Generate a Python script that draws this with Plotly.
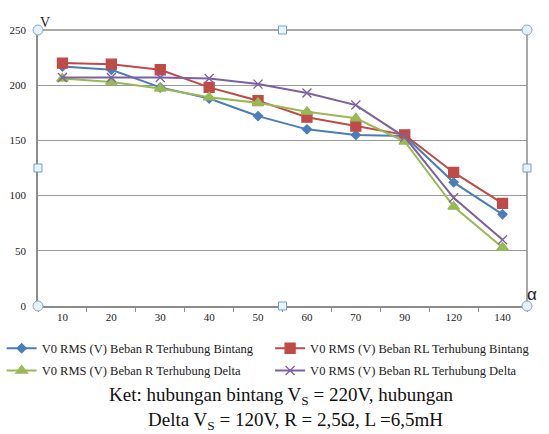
import plotly.graph_objects as go

categories = ["10", "20", "30", "40", "50", "60", "70", "90", "120", "140"]
r_bintang = [217, 214, 198, 188, 172, 160, 155, 154, 112, 83]
rl_bintang = [220, 219, 214, 198, 186, 171, 163, 155, 121, 93]
r_delta = [206, 203, 197, 189, 184, 176, 170, 149, 90, 53]
rl_delta = [207, 207, 207, 206, 201, 193, 182, 153, 98, 60]
y_ticks = [0, 50, 100, 150, 200, 250]

names = [
    "V0 RMS (V) Beban R Terhubung Bintang",
    "V0 RMS (V) Beban RL Terhubung Bintang",
    "V0 RMS (V) Beban R Terhubung Delta",
    "V0 RMS (V) Beban RL Terhubung Delta",
]
series = [r_bintang, rl_bintang, r_delta, rl_delta]
colors = ["#4A7EBB", "#BE4B48", "#98B954", "#7D60A0"]
symbols = ["diamond", "square", "triangle-up", "x-thin"]
sizes = [7, 10, 10, 9]
legend_ids = ["legend", "legend2", "legend", "legend2"]

fig = go.Figure()
for i, (nm, ys, c, s, sz, lg) in enumerate(zip(names, series, colors, symbols, sizes, legend_ids)):
    fig.add_trace(go.Scatter(
        x=categories, y=ys, name=nm, mode="lines+markers", legend=lg,
        legendgroup="g%d" % i,
        line=dict(color=c, width=2),
        marker=dict(symbol=s, size=sz, color=c, line=dict(color=c, width=1.3)),
    ))

leg_common = dict(
    orientation="v", xref="container", xanchor="left", y=-0.1, yanchor="top",
    font=dict(size=12.5, family="Liberation Serif", color="#222"),
    itemwidth=30, tracegroupgap=3, bgcolor="rgba(0,0,0,0)", borderwidth=0,
)

fig.update_layout(
    width=549, height=434,
    margin=dict(l=38, r=22, t=30, b=128, autoexpand=False),
    paper_bgcolor="white", plot_bgcolor="white",
    font=dict(family="Liberation Serif", color="#222"),
    showlegend=True,
    legend=dict(x=0.003, **leg_common),
    legend2=dict(x=0.492, **leg_common),
    xaxis=dict(
        type="category", showgrid=False, showline=True, linecolor="#8c8c8c",
        linewidth=1.5, ticks="outside", tickson="boundaries", ticklen=4,
        tickcolor="#8c8c8c", tickfont=dict(size=11, family="Liberation Serif", color="#222"),
        range=[-0.5, 9.5], zeroline=False, automargin=False,
    ),
    yaxis=dict(
        range=[0, 250], tickvals=y_ticks, showgrid=True, gridcolor="#9a9a9a",
        gridwidth=1, showline=True, linecolor="#8c8c8c", linewidth=1.5,
        ticks="", ticklabelstandoff=8, automargin=False,
        tickfont=dict(size=11, family="Liberation Serif", color="#222"),
        zeroline=False,
    ),
)

fig.add_shape(type="line", xref="paper", yref="paper", x0=0, x1=1, y0=1, y1=1,
              line=dict(color="#8c8c8c", width=1.5))
fig.add_shape(type="line", xref="paper", yref="paper", x0=1, x1=1, y0=0, y1=1,
              line=dict(color="#8c8c8c", width=1.5))

for (hx, hy) in [(0, 0), (0, 1), (1, 0), (1, 1)]:
    fig.add_shape(type="circle", xref="paper", yref="paper", xsizemode="pixel", ysizemode="pixel",
                  xanchor=hx, yanchor=hy, x0=-5, x1=5, y0=-5, y1=5,
                  line=dict(color="#8aa8bf", width=1), fillcolor="#e4f0f8")
for (hx, hy) in [(0.5, 0), (0.5, 1), (0, 0.5), (1, 0.5)]:
    fig.add_shape(type="rect", xref="paper", yref="paper", xsizemode="pixel", ysizemode="pixel",
                  xanchor=hx, yanchor=hy, x0=-4, x1=4, y0=-4, y1=4,
                  line=dict(color="#6fa3c8", width=1), fillcolor="#e8f4fc")

fig.add_annotation(text="V", xref="paper", yref="paper", x=0, y=1, yshift=17,
                   showarrow=False, font=dict(size=14, family="Liberation Serif", color="#222"))
fig.add_annotation(text="α", xref="paper", yref="paper", x=1, y=0, xshift=12,
                   showarrow=False, font=dict(size=17, family="Liberation Sans", color="#222"))

fig.add_annotation(
    text="Ket: hubungan bintang V<sub>S</sub> = 220V, hubungan",
    xref="paper", yref="paper", x=0.497, y=0, yshift=-90, xanchor="center", yanchor="middle",
    showarrow=False, font=dict(size=19, family="Liberation Serif", color="#111"))
fig.add_annotation(
    text="Delta V<sub>S</sub> = 120V, R = 2,5Ω, L =6,5mH",
    xref="paper", yref="paper", x=0.526, y=0, yshift=-115, xanchor="center", yanchor="middle",
    showarrow=False, font=dict(size=19, family="Liberation Serif", color="#111"))

fig.write_html("out.html", config={"displayModeBar": False},
               post_script="document.body.style.margin='0px';document.body.style.overflow='hidden';")
